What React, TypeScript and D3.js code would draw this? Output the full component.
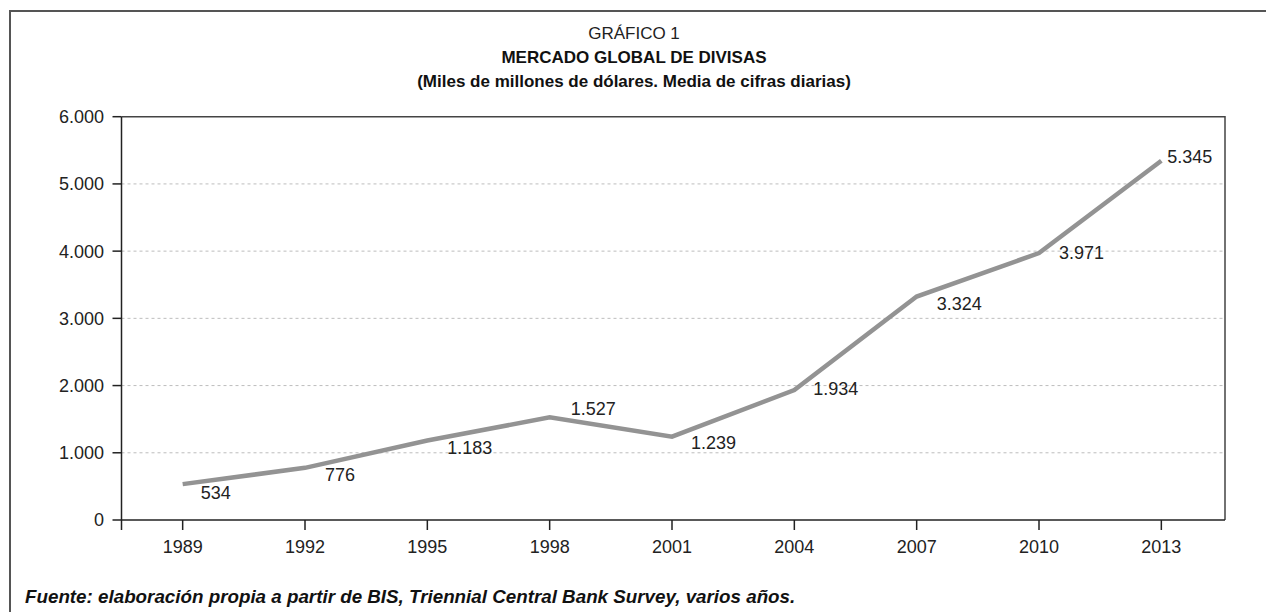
import React from "react";
import * as d3 from "d3";

// Daily average turnover, billions of US dollars
const years: string[] = ["1989", "1992", "1995", "1998", "2001", "2004", "2007", "2010", "2013"];
const turnover: number[] = [534, 776, 1183, 1527, 1239, 1934, 3324, 3971, 5345];
const yTicks: number[] = [0, 1000, 2000, 3000, 4000, 5000, 6000];

// Where each value label sits relative to its point: [dx, dy of label centre]
const labelOffsets: [number, number][] = [
  [18, 8],
  [20, 7],
  [20, 7],
  [21, -9],
  [19, 6],
  [19, -1],
  [20, 7],
  [20, -1],
  [6, -4],
];

const W = 1266;
const H = 612;
const left = 121.5;
const right = 1225;
const top = 116.7;
const bottom = 520;

const fmt = (v: number) => d3.format(",")(v).replace(/,/g, ".");
const FONT = "'Liberation Sans', Arial, Helvetica, sans-serif";

export default function App() {
  const x = d3.scalePoint<string>().domain(years).range([left, 1222.5]).padding(0.5);
  const y = d3.scaleLinear().domain([0, 6000]).range([bottom, top]);

  const line = d3
    .line<number>()
    .x((_, i) => x(years[i]) as number)
    .y((d) => y(d));

  return (
    <svg
      width={W}
      height={H}
      style={{ position: "absolute", left: 0, top: 0, background: "#fff" }}
      fontFamily={FONT}
    >
      {/* outer frame */}
      <path d={`M10,612 V11 H1266`} fill="none" stroke="#555" strokeWidth={2} />

      {/* titles */}
      <text x={634} y={39} textAnchor="middle" fontSize={17} fill="#222" fontWeight={300}>
        GRÁFICO 1
      </text>
      <text x={634} y={63} textAnchor="middle" fontSize={17} fontWeight="bold" fill="#111">
        MERCADO GLOBAL DE DIVISAS
      </text>
      <text x={634} y={87} textAnchor="middle" fontSize={17} fontWeight="bold" fill="#111">
        (Miles de millones de dólares. Media de cifras diarias)
      </text>

      {/* gridlines */}
      {yTicks
        .filter((t) => t > 0 && t < 6000)
        .map((t) => (
          <line
            key={"g" + t}
            x1={left}
            x2={right}
            y1={y(t)}
            y2={y(t)}
            stroke="#bdbdbd"
            strokeWidth={1}
            strokeDasharray="3,3"
          />
        ))}

      {/* plot box: top and right */}
      <path d={`M${left},${top} H${right} V${bottom}`} fill="none" stroke="#444" strokeWidth={1.5} />

      {/* y axis */}
      <line x1={left} x2={left} y1={top} y2={bottom + 10} stroke="#222" strokeWidth={1.5} />
      {yTicks.map((t) => (
        <g key={"y" + t}>
          <line x1={left - 9} x2={left} y1={y(t)} y2={y(t)} stroke="#222" strokeWidth={1.5} />
          <text x={104} y={y(t)} dy="0.36em" textAnchor="end" fontSize={18} fill="#222">
            {fmt(t)}
          </text>
        </g>
      ))}

      {/* x axis */}
      <line x1={left} x2={right} y1={bottom} y2={bottom} stroke="#222" strokeWidth={1.5} />
      {years.map((yr) => (
        <g key={"x" + yr}>
          <line x1={x(yr)} x2={x(yr)} y1={bottom} y2={bottom + 10} stroke="#222" strokeWidth={1.5} />
          <text x={x(yr)} y={553} textAnchor="middle" fontSize={18} fill="#222">
            {yr}
          </text>
        </g>
      ))}

      {/* series */}
      <path d={line(turnover) || ""} fill="none" stroke="#939393" strokeWidth={4.5} />

      {/* value labels */}
      {turnover.map((v, i) => (
        <text
          key={"l" + i}
          x={(x(years[i]) as number) + labelOffsets[i][0]}
          y={y(v) + labelOffsets[i][1]}
          dy="0.36em"
          fontSize={18}
          fill="#222"
        >
          {fmt(v)}
        </text>
      ))}

      {/* source note */}
      <text x={25} y={603} fontSize={18.8} fontWeight="bold" fontStyle="italic" fill="#111">
        Fuente: elaboración propia a partir de BIS, Triennial Central Bank Survey, varios años.
      </text>
    </svg>
  );
}
